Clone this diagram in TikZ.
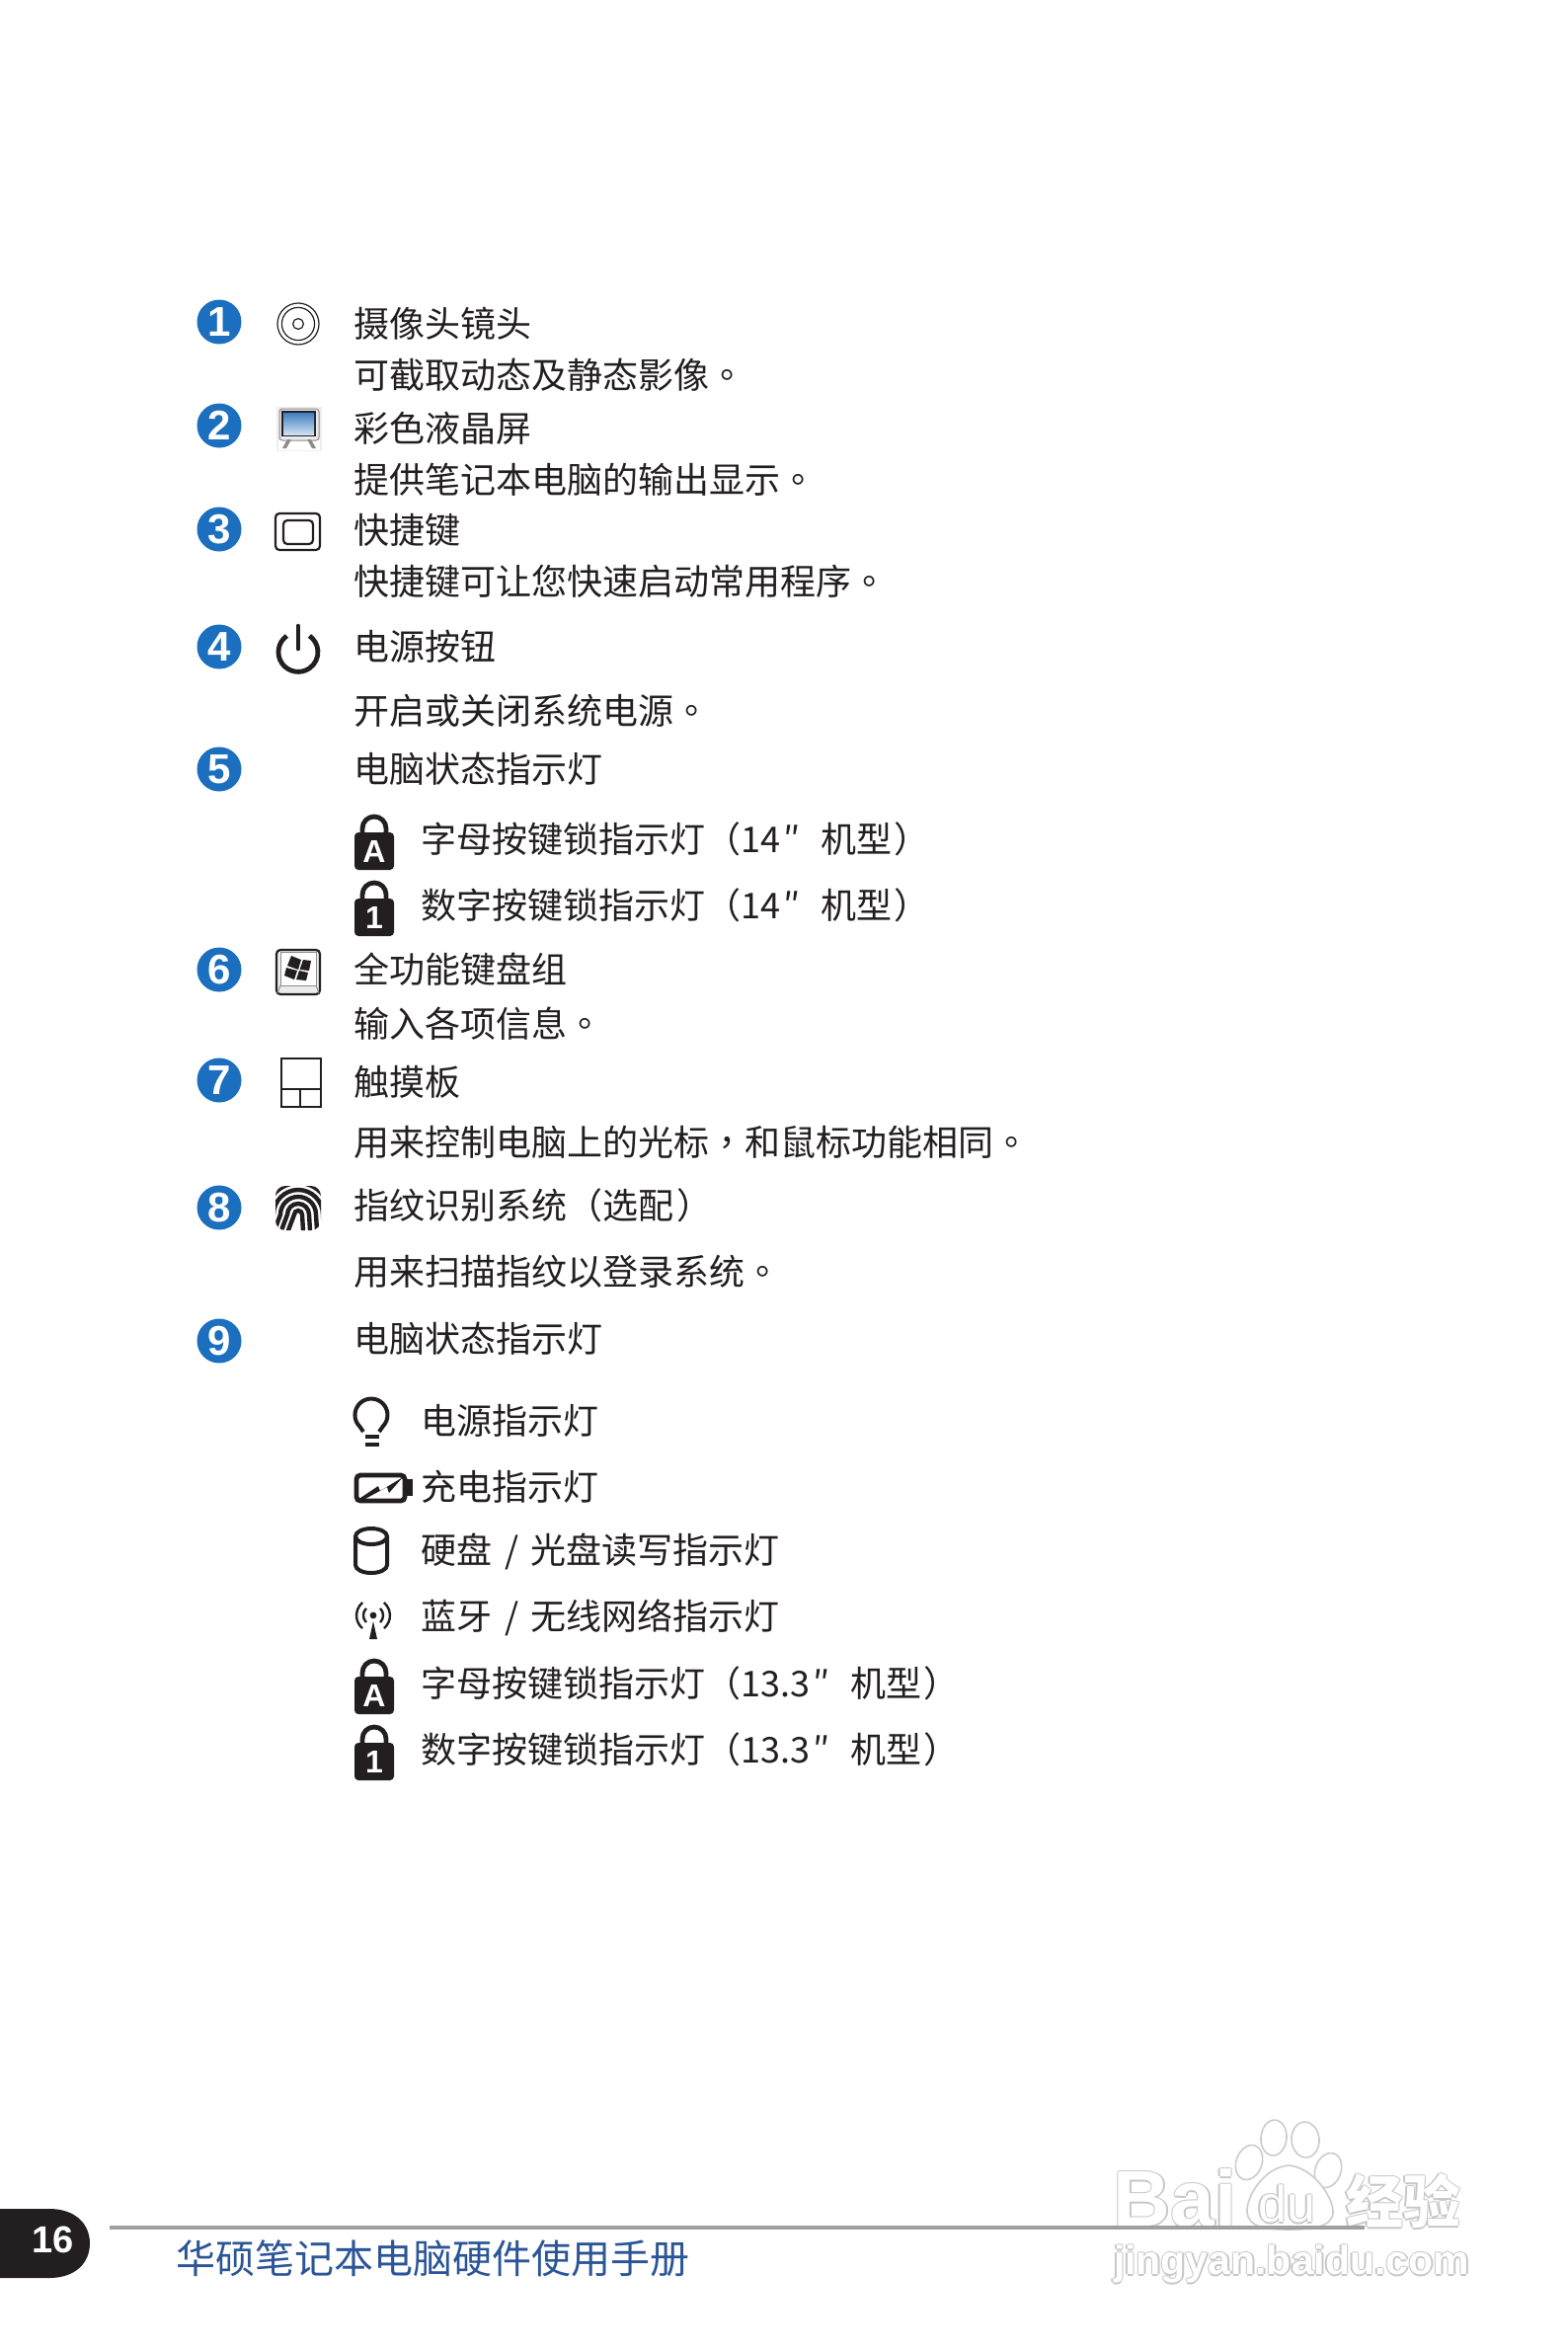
\documentclass[tikz,border=0pt]{standalone}
\usepackage{fontspec}
\setmainfont{Liberation Sans}
\newfontfamily\cjk{Noto Sans CJK SC}
\newfontfamily\cjktc{Noto Sans CJK TC}

\definecolor{badgeblue}{HTML}{1B6FBE}
\definecolor{footblue}{HTML}{2B5597}
\definecolor{inkgray}{HTML}{231F20}
\definecolor{rulegray}{HTML}{A09E9E}
\definecolor{screentop}{HTML}{3F7FC0}
\definecolor{screenlow}{HTML}{CFE0F2}

\tikzset{
    x=0.5pt, y=-0.5pt,
    badge/.style={shape=circle,fill=badgeblue,text=white,inner sep=0pt,minimum size=22.5pt,font=\bfseries\fontsize{21}{21}\selectfont},
    entry/.style={anchor=west,inner sep=0pt,text=inkgray,font=\cjk\fontsize{18}{18}\selectfont},
    icon/.style={draw=inkgray,line width=1.1pt},
    glyph/.style={draw=inkgray,line width=2pt},
    lockletter/.style={text=white,inner sep=0pt,font=\bfseries\fontsize{16}{16}\selectfont},
    wmarkline/.style={inner sep=0pt,text=black!22},
    wmarkfill/.style={inner sep=0pt,text=white},
    wmarkshape/.style={draw=black!20,fill=white,line width=0.8pt},
}

\newcommand{\pct}[1]{{\cjktc #1}}

\newcommand{\lockicon}[4]{%
    \draw[inkgray,line width=2.4pt] (#1+8,#2+20) -- (#1+8,#2+14) arc (180:360:12 and 12) -- (#1+32,#2+20);
    \fill[inkgray,rounded corners=2pt] (#1,#2+18) rectangle (#1+40,#2+56);
    \node[lockletter] (#4) at (#1+20,#2+37) {#3};
}

\newcommand{\fpline}[1]{%
    \draw[inkgray,line width=2.2pt] (290-#1,1262) -- (302-#1,1230) arc (180:360:#1 and #1) -- (304+#1,1262);
}

\newcommand{\wmtext}[5]{%
    \node[wmarkline,font=#4] (#1a) at (#2-1.5,#3) {#5};
    \node[wmarkline,font=#4] (#1b) at (#2+1.5,#3) {#5};
    \node[wmarkline,font=#4] (#1c) at (#2,#3-1.5) {#5};
    \node[wmarkline,font=#4] (#1d) at (#2,#3+1.5) {#5};
    \node[wmarkfill,font=#4] (#1) at (#2,#3) {#5};
}

\begin{document}
\begin{tikzpicture}
    \useasboundingbox (0,0) rectangle (1587,2381);

    \node[badge] (B1) at (222,326) {1};
    \node[badge] (B2) at (222,431) {2};
    \node[badge] (B3) at (222,536) {3};
    \node[badge] (B4) at (222,655) {4};
    \node[badge] (B5) at (222,779) {5};
    \node[badge] (B6) at (222,982) {6};
    \node[badge] (B7) at (222,1094) {7};
    \node[badge] (B8) at (222,1223) {8};
    \node[badge] (B9) at (222,1358) {9};

    \node[entry] (T1) at (358.5,328) {摄像头镜头};
    \node[entry] (D1) at (358.5,380) {可截取动态及静态影像\pct{。}};
    \node[entry] (T2) at (358.5,434) {彩色液晶屏};
    \node[entry] (D2) at (358.5,486) {提供笔记本电脑的输出显示\pct{。}};
    \node[entry] (T3) at (358.5,537) {快捷键};
    \node[entry] (D3) at (358.5,589) {快捷键可让您快速启动常用程序\pct{。}};
    \node[entry] (T4) at (358.5,655) {电源按钮};
    \node[entry] (D4) at (358.5,720) {开启或关闭系统电源\pct{。}};
    \node[entry] (T5) at (358.5,779) {电脑状态指示灯};
    \node[entry] (S51) at (426,850) {字母按键锁指示灯\pct{（}14\hspace{1.5pt}″\hspace{10.5pt}机型\hspace{1pt}\pct{）}};
    \node[entry] (S52) at (426,917) {数字按键锁指示灯\pct{（}14\hspace{1.5pt}″\hspace{10.5pt}机型\hspace{1pt}\pct{）}};
    \node[entry] (T6) at (358,982) {全功能键盘组};
    \node[entry] (D6) at (358,1037) {输入各项信息\pct{。}};
    \node[entry] (T7) at (358,1096) {触摸板};
    \node[entry] (D7) at (358,1157) {用来控制电脑上的光标\pct{，}和鼠标功能相同\pct{。}};
    \node[entry] (T8) at (358,1221) {指纹识别系统\pct{（}选配\hspace{1.5pt}\pct{）}};
    \node[entry] (D8) at (358,1288) {用来扫描指纹以登录系统\pct{。}};
    \node[entry] (T9) at (358.5,1356) {电脑状态指示灯};
    \node[entry] (S91) at (426,1439) {电源指示灯};
    \node[entry] (S92) at (426,1506) {充电指示灯};
    \node[entry] (S93) at (426,1571) {硬盘 \hspace{2.3pt}/\hspace{2.3pt} 光盘读写指示灯};
    \node[entry] (S94) at (426,1638) {蓝牙 \hspace{2.3pt}/\hspace{2.3pt} 无线网络指示灯};
    \node[entry] (S95) at (426,1705) {字母按键锁指示灯\pct{（}13.3\hspace{1.5pt}″\hspace{10.5pt}机型\hspace{1pt}\pct{）}};
    \node[entry] (S96) at (426,1772) {数字按键锁指示灯\pct{（}13.3\hspace{1.5pt}″\hspace{10.5pt}机型\hspace{1pt}\pct{）}};

    % camera
    \draw[icon,line width=0.6pt] (302,328) circle (10.5pt);
    \draw[icon,line width=0.6pt] (302,328) circle (8.3pt);
    \draw[icon,line width=0.6pt] (302,328) circle (2.7pt);

    % screen
    \fill[black!7] (280,412) rectangle (326,457);
    \fill[white] (282,446) rectangle (324,456);
    \draw[black!45,fill=black!8,rounded corners=1.5pt,line width=0.5pt] (283,414) rectangle (323,446);
    \fill[black!45] (291,445) -- (295,445) -- (290,454) -- (286,454) -- cycle;
    \fill[black!45] (311,445) -- (315,445) -- (320,454) -- (316,454) -- cycle;
    \fill[inkgray] (285,416) rectangle (320,442);
    \shade[top color=screentop,bottom color=screenlow] (287,418) rectangle (318,440);

    % hotkey
    \draw[icon,rounded corners=2pt] (279,520) rectangle (324,557);
    \draw[icon,rounded corners=2pt] (287,527) rectangle (317,551);

    % power
    \draw[inkgray,line width=2.3pt,line cap=round] (302,634) -- (302,657);
    \draw[inkgray,line width=2.4pt] (290.5,644) arc (-125:-415:20 and 20);

    % locks
    \lockicon{359}{825}{A}{L1}
    \lockicon{359}{892}{1}{L2}
    \lockicon{359}{1680}{A}{L3}
    \lockicon{359}{1747}{1}{L4}

    % key
    \draw[icon,fill=black!8,rounded corners=2pt] (280,962) rectangle (324,1007);
    \draw[black!45,line width=0.5pt] (284,998) -- (281,1006);
    \draw[black!45,line width=0.5pt] (320,998) -- (323,1006);
    \draw[black!45,fill=white,line width=0.5pt] (284,964) rectangle (320,998);
    \fill[inkgray] (295,968) -- (305,972) -- (302,982) -- (291,978) -- cycle;
    \fill[inkgray] (307,972) -- (315,973) -- (313,983) -- (303.5,982) -- cycle;
    \fill[inkgray] (290,980) -- (301,983) -- (298,992) -- (288,988) -- cycle;
    \fill[inkgray] (303,983) -- (312,985) -- (310,993) -- (300,992) -- cycle;

    % touchpad
    \draw[icon] (285,1072) rectangle (325,1121);
    \draw[icon] (285,1103) -- (325,1103);
    \draw[icon] (304,1103) -- (304,1121);

    % fingerprint
    \begin{scope}
        \clip[rounded corners=5pt] (279,1201) rectangle (325,1246);
        \fpline{4}
        \fpline{11}
        \fpline{18}
        \fpline{25}
        \fpline{32}
    \end{scope}

    % lamp
    \draw[glyph] (368,1450) -- (364.3,1444.7) arc (-225:45:16.5 and 16.5) -- (384,1450);
    \draw[glyph] (370,1455) -- (384,1455);
    \draw[glyph] (370,1463) -- (384,1463);

    % battery
    \draw[glyph,line width=2.4pt,rounded corners=2pt] (361,1494) rectangle (410,1520);
    \fill[inkgray] (411,1498) rectangle (418,1515);
    \fill[inkgray] (362,1519) -- (383,1505) -- (385,1510) -- (408,1496) -- (394,1512) -- (392,1506) -- (368,1519) -- cycle;

    % disk
    \draw[glyph] (360,1556) -- (360,1585) arc (180:0:16 and 8) -- (392,1556);
    \draw[glyph] (376,1556) ellipse (8pt and 4pt);

    % wireless
    \fill[inkgray] (378,1636) circle (1.7pt);
    \fill[inkgray] (378,1642) -- (382,1660) -- (374,1660) -- cycle;
    \draw[inkgray,line width=1.2pt] (370.9,1628.9) arc (-135:-225:10 and 10);
    \draw[inkgray,line width=1.2pt] (385.1,1628.9) arc (-45:45:10 and 10);
    \draw[inkgray,line width=1.2pt] (367.1,1623) arc (-130:-230:17 and 17);
    \draw[inkgray,line width=1.2pt] (388.9,1623) arc (-50:50:17 and 17);

    % footer
    \fill[inkgray] (0,2237) -- (50,2237) .. controls (76,2237) and (91,2252) .. (91,2272) .. controls (91,2292) and (76,2307) .. (50,2307) -- (0,2307) -- cycle;
    \node[inner sep=0pt,text=white,font=\bfseries\fontsize{19}{19}\selectfont] (PG) at (54,2268) {16};
    \node[anchor=west,inner sep=0pt,text=footblue,font=\cjk\fontsize{20}{20}\selectfont] (FT) at (178,2287) {华硕笔记本电脑硬件使用手册};

    % watermark
    \draw[wmarkshape,rotate around={-20:(1265,2190)}] (1265,2190) ellipse (6.5pt and 9pt);
    \draw[wmarkshape,rotate around={-5:(1290,2165)}] (1290,2165) ellipse (6.5pt and 9pt);
    \draw[wmarkshape,rotate around={5:(1322,2167)}] (1322,2167) ellipse (7pt and 9pt);
    \draw[wmarkshape,rotate around={-20:(1345,2198)}] (1345,2198) ellipse (6.5pt and 9pt);
    \draw[wmarkshape] (1305,2193) .. controls (1280,2195) and (1262,2225) .. (1263,2240) .. controls (1264,2255) and (1280,2258) .. (1305,2258) .. controls (1330,2258) and (1350,2255) .. (1350,2240) .. controls (1350,2225) and (1330,2195) .. (1305,2193) -- cycle;
    \wmtext{WB}{1190}{2226}{\bfseries\fontsize{40}{40}\selectfont}{Bai}
    \wmtext{WD}{1303}{2232}{\fontsize{26}{26}\selectfont}{du}
    \wmtext{WJ}{1421}{2229}{\cjk\bfseries\fontsize{29}{29}\selectfont}{经验}
    \wmtext{WU}{1308}{2293}{\bfseries\fontsize{20.5}{20.5}\selectfont}{jingyan.baidu.com}

    \fill[rulegray] (111,2254) rectangle (1382,2258);
\end{tikzpicture}
\end{document}
